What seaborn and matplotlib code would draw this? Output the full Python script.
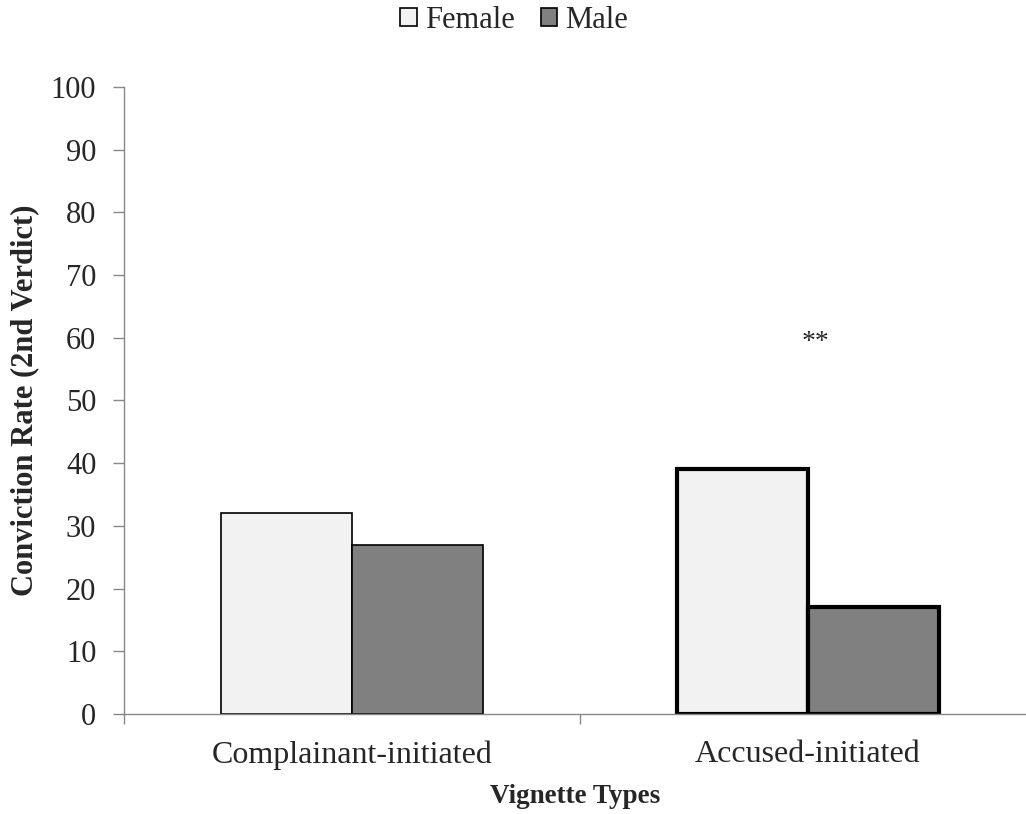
import matplotlib
matplotlib.use("Agg")
import matplotlib.pyplot as plt
import seaborn as sns
import pandas as pd
from matplotlib.patches import Patch

categories = ["Complainant-initiated", "Accused-initiated"]
female = [32, 39]
male = [27, 17]
genders = ["Female", "Male"]

df = pd.DataFrame({
    "Vignette": categories * 2,
    "Gender": ["Female"] * 2 + ["Male"] * 2,
    "Rate": female + male,
})

sns.set_theme(style="white")
plt.rcParams["font.family"] = ["Liberation Serif", "DejaVu Serif"]

fig = plt.figure(figsize=(10.26, 8.14), dpi=100)
ax = fig.add_axes([0.1209, 0.1229, 0.8791, 0.7702])

palette = {"Female": "#f2f2f2", "Male": "#808080"}
sns.barplot(data=df, x="Vignette", y="Rate", hue="Gender", order=categories,
            hue_order=genders, palette=palette, width=0.575, ax=ax,
            edgecolor="black", linewidth=1.2, legend=False, saturation=1)

for p in ax.patches:
    cx = p.get_x() + p.get_width() / 2
    if cx > 0.5:
        p.set_linewidth(3.0)
    else:
        p.set_linewidth(1.2)

ax.set_xlim(-0.5, 1.478)
ax.set_ylim(0, 100)
ax.set_yticks(range(0, 101, 10))
ax.set_xticks([0, 1])
ax.set_xticklabels(categories, fontsize=23)
ax.tick_params(axis="y", labelsize=22, length=8, width=1, color="#888888",
               direction="out", left=True, pad=12)
ax.tick_params(axis="x", length=0, pad=19)
ax.set_xticks([-0.5, 0.5], minor=True)
ax.tick_params(axis="x", which="minor", length=7, width=1, color="#888888", bottom=True)

for s in ["top", "right"]:
    ax.spines[s].set_visible(False)
for s in ["left", "bottom"]:
    ax.spines[s].set_color("#888888")
    ax.spines[s].set_linewidth(1)

ax.set_ylabel("Conviction Rate (2nd Verdict)", fontsize=22, fontweight="bold")
ax.yaxis.label.set_va("center")
ax.yaxis.set_label_coords(-0.1098, 0.5)
ax.set_xlabel("Vignette Types", fontsize=19.5, fontweight="bold")
ax.xaxis.label.set_va("center")
ax.xaxis.set_label_coords(0.5, -0.131)

ax.text(1.017, 59.2, "**", ha="center", va="center", fontsize=20)

handles = [Patch(facecolor=palette[g], edgecolor="black", linewidth=1.2) for g in genders]
fig.legend(handles, genders, loc="center", bbox_to_anchor=(0.501, 0.975), ncol=2,
           frameon=False, fontsize=22, handlelength=0.55, handleheight=0.55,
           handletextpad=0.26, columnspacing=0.85, borderpad=0.1)

fig.savefig("out.png", dpi=100)
